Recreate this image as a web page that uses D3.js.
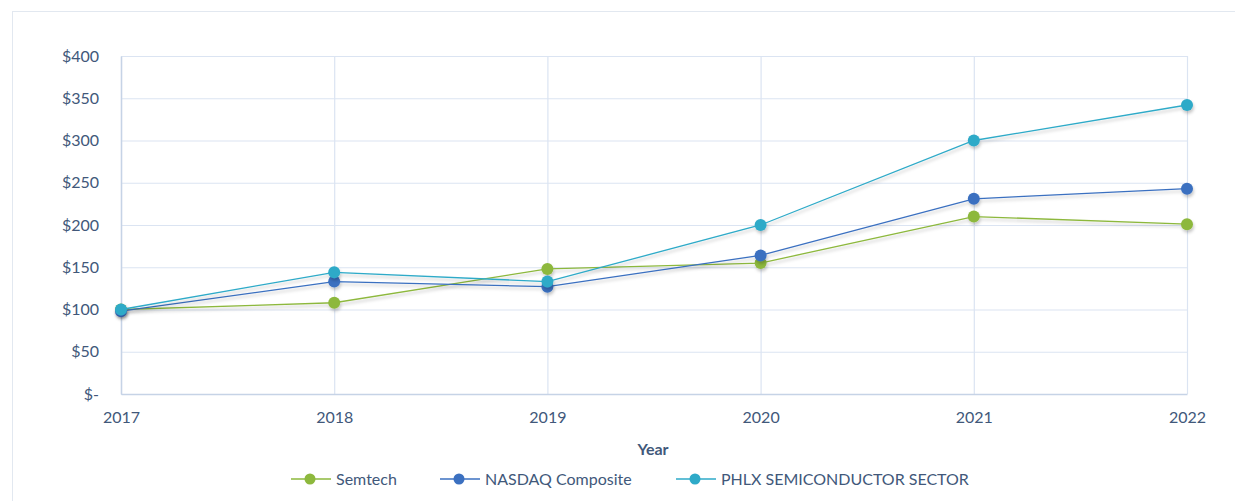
<!DOCTYPE html>
<html>
<head>
<meta charset="utf-8">
<script src="https://cdn.jsdelivr.net/npm/d3@7"></script>
<style>
  body { margin: 0; background: #fff; }
  svg, svg text { font-family: Lato, "Open Sans", sans-serif; }
</style>
</head>
<body>
<svg id="chart" width="1235" height="501"></svg>
<script>
// chart data
var years = [2017, 2018, 2019, 2020, 2021, 2022]
var semtech = [100, 108, 148, 155, 210, 201]
var nasdaq = [98, 133, 127, 164, 231, 243]
var phlx = [100, 144, 133, 200, 300, 342]
var seriesNames = ["Semtech", "NASDAQ Composite", "PHLX SEMICONDUCTOR SECTOR"]
var seriesColors = ["#8db83d", "#3b70c0", "#2eaac8"]
var yTicks = [0, 50, 100, 150, 200, 250, 300, 350, 400]

var svg = d3.select("#chart")
var textColor = "#41587a"

// outer frame
svg.append("rect")
	.attr("x", 12.5).attr("y", 11.5)
	.attr("width", 1240).attr("height", 500)
	.attr("fill", "none")
	.attr("stroke", "#e2e8f0")

// drop shadow for the lines
var defs = svg.append("defs")
defs.append("filter")
	.attr("id", "shadow")
	.attr("x", "-5%").attr("y", "-20%")
	.attr("width", "110%").attr("height", "140%")
	.append("feDropShadow")
	.attr("dx", 1).attr("dy", 2.5)
	.attr("stdDeviation", 1.8)
	.attr("flood-color", "#000")
	.attr("flood-opacity", 0.22)

var x = d3.scalePoint()
	.domain(years)
	.range([121, 1187])

var y = d3.scaleLinear()
	.domain([0, 400])
	.range([394, 56])

// horizontal grid
svg.append("g")
	.selectAll("line")
	.data(yTicks)
	.enter()
	.append("line")
	.attr("x1", x(years[0])).attr("x2", x(years[years.length - 1]))
	.attr("y1", function(d) { return y(d) + 0.5 })
	.attr("y2", function(d) { return y(d) + 0.5 })
	.attr("stroke", "#dbe4f2")
	.attr("stroke-width", 1.2)

// vertical grid
svg.append("g")
	.selectAll("line")
	.data(years)
	.enter()
	.append("line")
	.attr("x1", function(d) { return x(d) + 0.5 })
	.attr("x2", function(d) { return x(d) + 0.5 })
	.attr("y1", y(400)).attr("y2", y(0))
	.attr("stroke", "#dbe4f2")
	.attr("stroke-width", 1.2)

// axes
var yAxis = svg.append("g")
	.attr("transform", "translate(" + x(years[0]) + ",0)")
	.call(d3.axisLeft(y)
		.tickValues(yTicks)
		.tickSize(0)
		.tickPadding(22)
		.tickFormat(function(d) { return d === 0 ? "$-" : "$" + d }))
yAxis.attr("font-family", null).attr("font-size", null)
yAxis.select(".domain").attr("stroke", "#c6d3e6").attr("stroke-width", 1.5)
yAxis.selectAll("text")
	.attr("fill", textColor)
	.style("font-size", "16px")

var xAxis = svg.append("g")
	.attr("transform", "translate(0," + y(0) + ")")
	.call(d3.axisBottom(x).tickSize(0).tickPadding(18))
xAxis.attr("font-family", null).attr("font-size", null)
xAxis.select(".domain").attr("stroke", "#c6d3e6").attr("stroke-width", 1.5)
xAxis.selectAll("text")
	.attr("fill", textColor)
	.style("font-size", "16px")

svg.append("text")
	.attr("x", 653).attr("y", 455)
	.attr("text-anchor", "middle")
	.attr("fill", textColor)
	.style("font-size", "16px")
	.style("font-weight", "bold")
	.text("Year")

// series
var allSeries = [semtech, nasdaq, phlx]
var line = d3.line()
	.x(function(d, i) { return x(years[i]) })
	.y(function(d) { return y(d) })

allSeries.forEach(function(vals, s) {
	var g = svg.append("g").attr("filter", "url(#shadow)")
	g.append("path")
		.datum(vals)
		.attr("d", line)
		.attr("fill", "none")
		.attr("stroke", seriesColors[s])
		.attr("stroke-width", 1.3)
	g.selectAll("circle")
		.data(vals)
		.enter()
		.append("circle")
		.attr("cx", function(d, i) { return x(years[i]) })
		.attr("cy", function(d) { return y(d) })
		.attr("r", 6)
		.attr("fill", seriesColors[s])
})

// legend
var legendX = [291, 440, 676]
var legendY = 479
seriesNames.forEach(function(name, s) {
	var lg = svg.append("g").attr("transform", "translate(" + legendX[s] + "," + legendY + ")")
	lg.append("line")
		.attr("x1", 0).attr("x2", 40)
		.attr("y1", 0).attr("y2", 0)
		.attr("stroke", seriesColors[s])
		.attr("stroke-width", 1.3)
	lg.append("circle")
		.attr("cx", 19).attr("cy", 0).attr("r", 5.5)
		.attr("fill", seriesColors[s])
	lg.append("text")
		.attr("x", 45).attr("y", 5.5)
		.attr("fill", textColor)
		.style("font-size", "16px")
		.text(name)
})
</script>
</body>
</html>
